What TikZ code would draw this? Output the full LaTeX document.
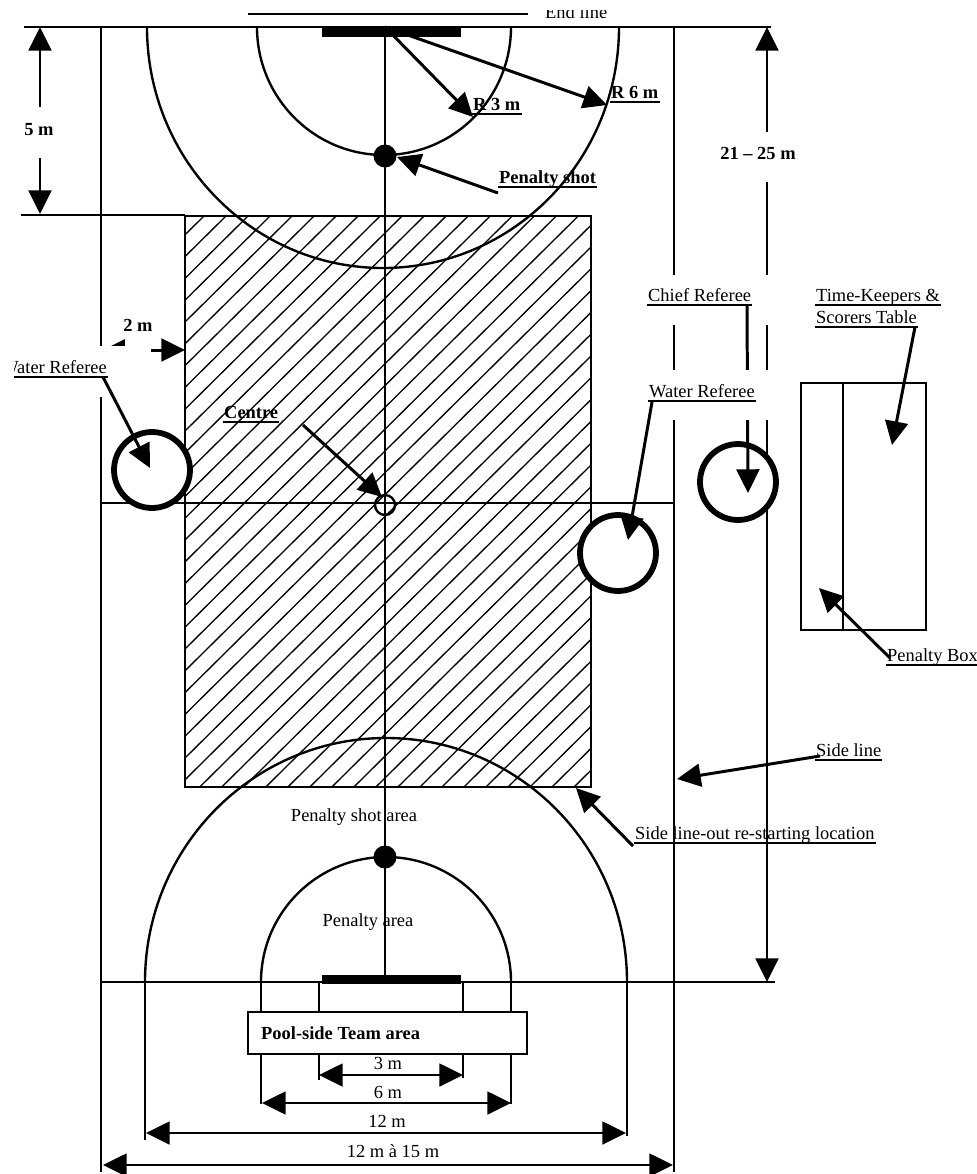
\documentclass[tikz,border=0pt]{standalone}
\usepackage{fontspec}
\setmainfont{Liberation Serif}
\usetikzlibrary{arrows.meta}
\tikzset{
  lab/.style={inner sep=0pt, text height=8pt, text depth=1.6pt, font=\fontsize{10.5pt}{12pt}\selectfont},
  blab/.style={lab, font=\fontsize{10.5pt}{12pt}\selectfont\bfseries},
  referee/.style={circle, draw, fill=white, line width=3.3pt, minimum size=1.52cm},
  spot/.style={circle, fill=black, inner sep=0pt, minimum size=0.46cm},
  mask/.style={fill=white, draw=none},
  lead/.style={->, line width=1.7pt},
}
\begin{document}
\begin{tikzpicture}[x=0.02cm, y=-0.02cm, line width=1.35pt, >={Triangle[length=13.5pt, width=13pt]}]
  \useasboundingbox (0, 0) rectangle (977, 1174);

  \begin{scope}
    \clip (185, 216) rectangle (591, 787);
    \foreach \i in {0, ..., 45}
      \draw[line width=0.75pt] (185, 213 + 21.8 * \i) -- ++(406, -402);
  \end{scope}
  \draw (185, 216) rectangle (591, 787);

  \draw (248, 14) -- (528, 14);
  \draw (24, 27) -- (771, 27);
  \draw (21, 215) -- (185, 215);
  \draw (100, 503) -- (674, 503);
  \draw (100, 982) -- (775, 982);
  \draw (101, 27) -- (101, 1172);
  \draw (674, 27) -- (674, 1172);
  \draw (385, 27) -- (385, 977);

  \fill (322, 28) rectangle (461, 37);
  \fill (322, 975) rectangle (461, 984);

  \draw (257, 27) arc[start angle=180, end angle=0, x radius=127, y radius=128];
  \draw (147, 27) arc[start angle=180, end angle=0, x radius=236, y radius=241];
  \draw (145, 982) arc[start angle=180, end angle=360, x radius=241, y radius=244];
  \draw (261, 982) arc[start angle=180, end angle=360, x radius=125, y radius=125];
  \draw (385, 505) circle[radius=10];

  \node[spot] (shottop) at (385, 156) {};
  \node[spot] (shotbot) at (385, 857) {};

  \draw (319, 982) -- (319, 1080);
  \draw (463, 982) -- (463, 1078);
  \draw (261, 982) -- (261, 1104);
  \draw (511, 982) -- (511, 1104);
  \draw (145, 982) -- (145, 1140);
  \draw (627, 982) -- (627, 1136);

  \draw[fill=white] (248, 1012) rectangle (527, 1054);
  \node[blab, anchor=west] (poolside) at (260, 1034) {Pool-side Team area};

  \draw[<->] (319, 1075) -- (463, 1075);
  \draw[<->] (262, 1103) -- (511, 1103);
  \draw[<->] (146, 1133) -- (626, 1133);
  \draw[<->] (103, 1165) -- (673, 1165);
  \node[lab] (dimthree) at (388, 1064) {3 m};
  \node[lab] (dimsix) at (388, 1093) {6 m};
  \node[lab] (dimtwelve) at (387, 1122) {12 m};
  \node[lab] (dimpool) at (393, 1152) {12 m à 15 m};

  \draw[<->, line width=1.7pt] (40, 27) -- (40, 214);
  \draw[<->, line width=1.7pt] (767, 27) -- (767, 982);
  \draw[<->, line width=1.7pt] (103, 350) -- (185, 350);
  \fill[mask] (20, 107) rectangle (60, 158);
  \fill[mask] (720, 132) rectangle (800, 182);
  \fill[mask] (125, 315) rectangle (151, 365);
  \fill[mask] (0, 346) rectangle (126, 397);
  \fill[mask] (640, 275) rectangle (795, 325);
  \node[blab] (dimfive) at (39, 130) {5 m};
  \node[blab] (dimlength) at (758, 154) {21 -- 25 m};
  \node[blab] (dimtwo) at (138, 326) {2 m};

  \node[referee] (refleft) at (152, 470) {};
  \node[referee] (refright) at (618, 553) {};
  \node[referee] (refchief) at (738, 482) {};

  \coordinate (chiefstart) at (747, 305);
  \coordinate (chieftip) at (748, 493);
  \draw[lead] (chiefstart) -- (chieftip);
  \fill[mask] (640, 370) rectangle (795, 420);

  \draw (801, 383) rectangle (926, 630);
  \draw (843, 383) -- (843, 630);

  \node[blab, anchor=south west] (rthree) at (472, 114) {R 3 m};
  \node[blab, anchor=south west] (rsix) at (610, 102) {R 6 m};
  \node[blab, anchor=south west] (shot) at (498, 187) {Penalty shot};
  \node[blab, anchor=south west] (centre) at (223, 422) {Centre};
  \node[lab, anchor=south east] (waterleft) at (108, 377) {Water Referee};
  \node[lab, anchor=south west] (waterright) at (648, 401) {Water Referee};
  \node[lab, anchor=south west] (chief) at (647, 305) {Chief Referee};
  \node[lab, anchor=south west] (keepers) at (815, 305) {Time-Keepers \&};
  \node[lab, anchor=south west] (scorers) at (815, 327) {Scorers Table};
  \node[lab, anchor=south west] (penbox) at (886, 665) {Penalty Box};
  \node[lab, anchor=south west] (sideline) at (815, 760) {Side line};
  \node[lab, anchor=south west] (sideout) at (634, 843) {Side line-out re-starting location};
  \node[lab] (shotarea) at (354, 816) {Penalty shot area};
  \node[lab] (penarea) at (368, 921) {Penalty area};
  \node[lab, anchor=south west] (endline) at (544, 22.8) {End line};

  \foreach \n in {rthree, rsix, shot, centre, waterleft, waterright, chief, keepers, scorers, penbox, sideline, sideout}
    \draw (\n.south west) -- (\n.south east);
  \fill[mask] (530, 0) rectangle (640, 10);
  \fill[mask] (0, 350) rectangle (14, 382);

  \coordinate (origin) at (385, 27);
  \coordinate (rthreetip) at (473, 117);
  \coordinate (rsixtip) at (607, 105);
  \coordinate (shotstart) at (498, 193);
  \coordinate (shottip) at (397, 157);
  \coordinate (centrestart) at (303, 425);
  \coordinate (centretip) at (382, 497);
  \coordinate (wleftstart) at (103, 377);
  \coordinate (wlefttip) at (150, 468);
  \coordinate (wrightstart) at (652, 402);
  \coordinate (wrighttip) at (628, 540);
  \coordinate (tablestart) at (915, 327);
  \coordinate (tabletip) at (892, 445);
  \coordinate (boxstart) at (890, 658);
  \coordinate (boxtip) at (819, 588);
  \coordinate (sidestart) at (820, 756);
  \coordinate (sidetip) at (677, 779);
  \coordinate (outstart) at (633, 846);
  \coordinate (outtip) at (576, 788);

  \draw[lead] (origin) -- (rthreetip);
  \draw[lead] (origin) -- (rsixtip);
  \draw[lead] (shotstart) -- (shottip);
  \draw[lead] (centrestart) -- (centretip);
  \draw[lead] (wleftstart) -- (wlefttip);
  \draw[lead] (wrightstart) -- (wrighttip);
  \draw[lead] (tablestart) -- (tabletip);
  \draw[lead] (boxstart) -- (boxtip);
  \draw[lead] (sidestart) -- (sidetip);
  \draw[lead] (outstart) -- (outtip);
\end{tikzpicture}
\end{document}
